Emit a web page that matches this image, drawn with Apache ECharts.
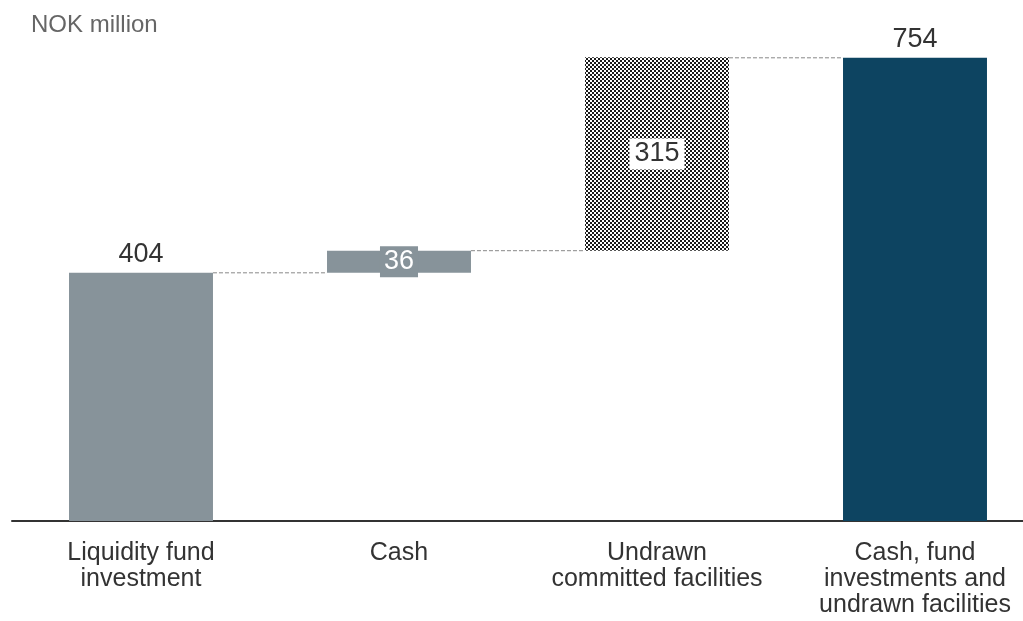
<!DOCTYPE html>
<html>
<head>
<meta charset="utf-8">
<script src="https://cdn.jsdelivr.net/npm/echarts@6/dist/echarts.min.js"></script>
<style>
html,body{margin:0;padding:0;background:#fff;overflow:hidden;width:1023px;height:621px;}
#chart{width:1044px;height:621px;}
</style>
</head>
<body>
<div id="chart"></div>
<script>
var categories = ['Liquidity fund\ninvestment', 'Cash', 'Undrawn\ncommitted facilities', 'Cash, fund\ninvestments and\nundrawn facilities'];
var barValues = [404, 36, 315, 754];
var baseValues = [0, 404, 440, 0];
var connectorLevels = [404, 440, 754];
var unitLabel = 'NOK million';

var GREY = '#87939a';
var DARK = '#0d4461';
var BAR_RATIO = 0.558;

var pat = document.createElement('canvas');
pat.width = 4; pat.height = 4;
var pctx = pat.getContext('2d');
pctx.fillStyle = '#ffffff';
pctx.fillRect(0, 0, 4, 4);
pctx.fillStyle = '#1a1a1a';
pctx.fillRect(0, 0, 2, 2);
pctx.fillRect(2, 2, 2, 2);

var FONT = 'Liberation Sans, Arial, sans-serif';
var fillStyles = [GREY, GREY, {image: pat, repeat: 'repeat'}, DARK];
var labelStyles = [
  {show: true, position: 'top', distance: 5, fontSize: 27, color: '#333'},
  {show: true, position: 'inside', fontSize: 27, color: '#fff', backgroundColor: GREY, padding: [2, 4]},
  {show: true, position: 'inside', fontSize: 27, color: '#333', backgroundColor: '#fff', padding: [2, 5]},
  {show: true, position: 'top', distance: 5, fontSize: 27, color: '#333'}
];

var chart = echarts.init(document.getElementById('chart'));
chart.setOption({
  animation: false,
  textStyle: {fontFamily: FONT},
  title: {
    text: unitLabel, left: 26, top: 8,
    textStyle: {fontSize: 24, fontWeight: 'normal', color: '#666', fontFamily: FONT}
  },
  grid: {left: 12, right: 0, top: 32, bottom: 100},
  xAxis: {
    type: 'category',
    data: categories,
    axisLine: {lineStyle: {color: '#333', width: 2}},
    axisTick: {show: false},
    axisLabel: {interval: 0, fontSize: 25, lineHeight: 26, color: '#333', margin: 19, fontFamily: FONT}
  },
  yAxis: {
    type: 'value', min: 0, max: 796,
    show: false, splitLine: {show: false}
  },
  series: [
    {
      type: 'bar', stack: 'total', barWidth: (BAR_RATIO * 100) + '%',
      itemStyle: {color: 'transparent'},
      silent: true,
      data: baseValues
    },
    {
      type: 'bar', stack: 'total', barWidth: (BAR_RATIO * 100) + '%',
      data: barValues.map(function (v, i) {
        return {value: v, itemStyle: {color: fillStyles[i]}, label: Object.assign({fontFamily: FONT}, labelStyles[i])};
      })
    },
    {
      type: 'custom',
      silent: true,
      z: 1,
      data: connectorLevels.map(function (v, i) { return [i, v]; }),
      renderItem: function (params, api) {
        var i = api.value(0), v = api.value(1);
        var p1 = api.coord([i, v]);
        var p2 = api.coord([i + 1, v]);
        var half = api.size([1, 0])[0] * BAR_RATIO / 2;
        return {
          type: 'line',
          shape: {x1: p1[0] + half, y1: p1[1], x2: p2[0] - half, y2: p2[1]},
          style: {stroke: '#888', lineWidth: 1, lineDash: [4, 2]}
        };
      }
    }
  ]
});
</script>
</body>
</html>
